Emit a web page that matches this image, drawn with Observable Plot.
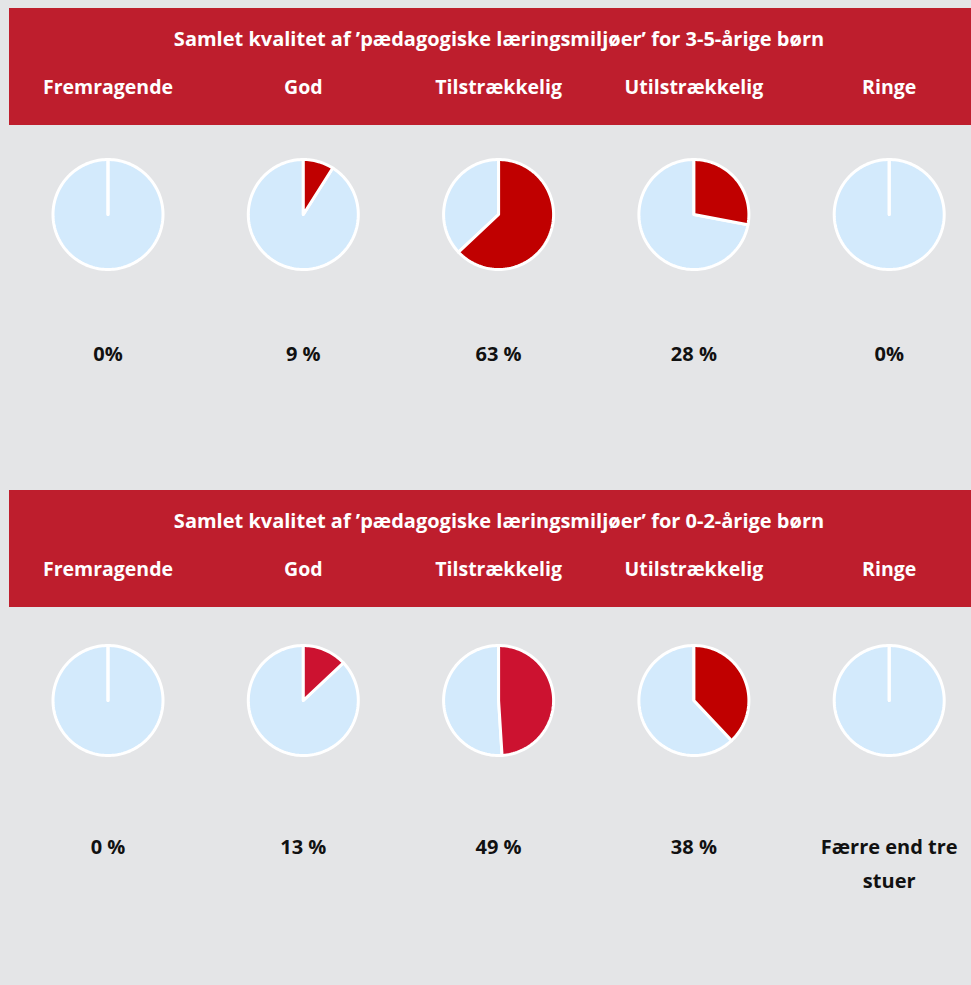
<!DOCTYPE html>
<html><head><meta charset="utf-8">
<script src="https://cdn.jsdelivr.net/npm/d3@7"></script>
<script src="https://cdn.jsdelivr.net/npm/@observablehq/plot@0.6"></script>
<style>
html,body{margin:0;padding:0;background:#e4e5e7;}
#page{position:relative;width:971px;height:985px;overflow:hidden;font-family:"Open Sans",sans-serif;}
.block{position:absolute;left:0;width:971px;}
.banner{position:absolute;left:9px;right:0;top:0;height:117px;background:#be1e2d;}
.title{position:absolute;left:18px;right:0;top:19px;text-align:center;color:#fff;font-weight:700;font-size:20px;line-height:24px;white-space:nowrap;}
.block svg{position:absolute;top:0;left:0;}
</style>
</head><body>
<div id="page"></div>
<script>
// ---- data ----
const categories = ["Fremragende", "God", "Tilstrækkelig", "Utilstrækkelig", "Ringe"];
const titles = [
  "Samlet kvalitet af ’pædagogiske læringsmiljøer’ for 3-5-årige børn",
  "Samlet kvalitet af ’pædagogiske læringsmiljøer’ for 0-2-årige børn"
];
const values35 = [0, 9, 63, 28, 0];
const labels35 = ["0%", "9 %", "63 %", "28 %", "0%"];
const values02 = [0, 13, 49, 38, 0];
const labels02 = ["0 %", "13 %", "49 %", "38 %", "Færre end tre\nstuer"];

// ---- styles / layout ----
const LIGHT = "#d3eafc";
const RED = "#c00000";
const CRIMSON = "#cc1230";
const redFill35 = [RED, RED, RED, RED, RED];
const redFill02 = [RED, CRIMSON, CRIMSON, RED, RED];
const W = 971;
const COL0 = 107.5, STEP = 195.3; // px of first column centre, column spacing
const R = 55;                      // pie radius px
const BANNER = 117;
const LABEL_FONT = 20, LABEL_LH = 1.7;

function piePoints(values, reds) {
  const pts = [];
  const r = R / STEP;
  values.forEach((v, i) => {
    const split = v / 100 * 2 * Math.PI;
    const slices = [
      {key: i + "-light", fill: LIGHT, a0: split, a1: 2 * Math.PI},
      {key: i + "-red", fill: reds[i], a0: 0, a1: split}
    ];
    for (const s of slices) {
      pts.push({key: s.key, fill: s.fill, x: i, y: 0});
      const n = Math.max(1, Math.ceil((s.a1 - s.a0) / (Math.PI / 90)));
      for (let k = 0; k <= n; k++) {
        const a = s.a0 + (s.a1 - s.a0) * k / n;
        pts.push({key: s.key, fill: s.fill, x: i + r * Math.sin(a), y: r * Math.cos(a)});
      }
    }
  });
  return pts;
}

function block(top, height, title, values, labels, reds, centerBelowTop, labelBelowCenter) {
  const div = document.createElement("div");
  div.className = "block";
  div.style.top = top + "px";
  div.style.height = height + "px";
  const banner = document.createElement("div");
  banner.className = "banner";
  const t = document.createElement("div");
  t.className = "title";
  t.textContent = title;
  banner.appendChild(t);
  div.appendChild(banner);

  const innerH = height - BANNER;
  const labelData = labels.map((l, i) => ({i, label: l}));
  // first-line centre sits about (0.71*lineHeight - 0.36) em below the anchor
  const textShift = (0.71 * LABEL_LH - 0.36) * LABEL_FONT;
  const svg = Plot.plot({
    width: W,
    height,
    marginTop: BANNER, marginBottom: 0, marginLeft: 0, marginRight: 0,
    style: {background: "transparent", overflow: "visible"},
    x: {domain: [-COL0 / STEP, (W - COL0) / STEP], axis: null},
    y: {domain: [-(innerH - centerBelowTop) / STEP, centerBelowTop / STEP], axis: null},
    color: {type: "identity"},
    marks: [
      Plot.axisX(d3.range(categories.length), {
        anchor: "top", tickSize: 0, tickPadding: 32, label: null,
        tickFormat: i => categories[i],
        fill: "white", fontSize: 19.5, fontWeight: "bold",
        fontFamily: "Open Sans"
      }),
      Plot.line(piePoints(values, reds), {
        x: "x", y: "y", z: "key", fill: "fill",
        stroke: "white", strokeWidth: 3, strokeLinejoin: "round",
        curve: "linear-closed"
      }),
      Plot.text(labelData, {
        x: "i", y: () => -(labelBelowCenter - textShift) / STEP, text: "label",
        lineAnchor: "top", lineHeight: LABEL_LH,
        fontSize: LABEL_FONT, fontWeight: "bold", fill: "#111",
        fontFamily: "Open Sans"
      })
    ]
  });
  div.appendChild(svg);
  document.getElementById("page").appendChild(div);
}

block(8, 482, titles[0], values35, labels35, redFill35, 89, 139);
block(490, 495, titles[1], values02, labels02, redFill02, 93, 146);
</script>
</body></html>
